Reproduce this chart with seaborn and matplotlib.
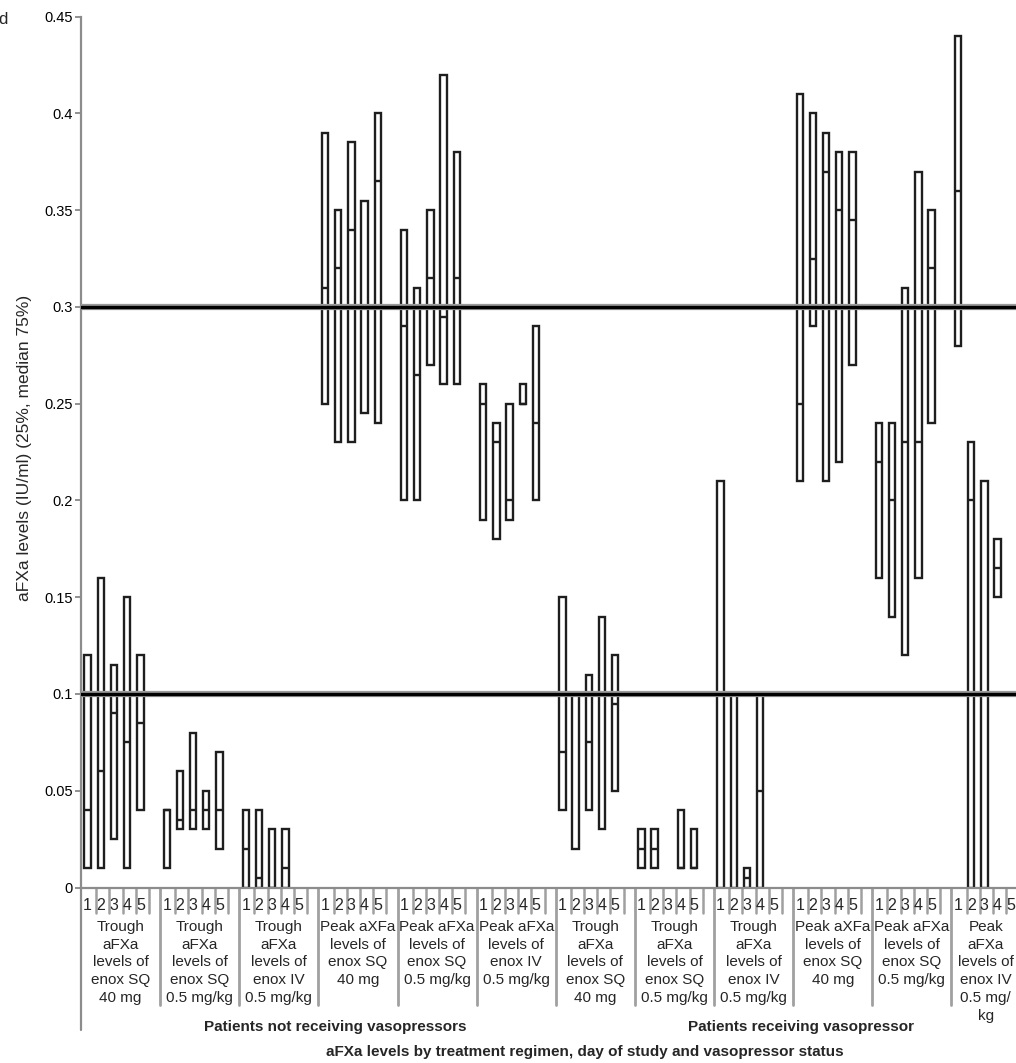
import numpy as np
import matplotlib
matplotlib.use("Agg")
import matplotlib.pyplot as plt
import seaborn as sns
from matplotlib import font_manager

# day of study inside each regimen group
days = [1, 2, 3, 4, 5]

group_labels = [
    "Trough\naFXa\nlevels of\nenox SQ\n40 mg",
    "Trough\naFXa\nlevels of\nenox SQ\n0.5 mg/kg",
    "Trough\naFXa\nlevels of\nenox IV\n0.5 mg/kg",
    "Peak aXFa\nlevels of\nenox SQ\n40 mg",
    "Peak aFXa\nlevels of\nenox SQ\n0.5 mg/kg",
    "Peak aFXa\nlevels of\nenox IV\n0.5 mg/kg",
    "Trough\naFXa\nlevels of\nenox SQ\n40 mg",
    "Trough\naFXa\nlevels of\nenox SQ\n0.5 mg/kg",
    "Trough\naFXa\nlevels of\nenox IV\n0.5 mg/kg",
    "Peak aXFa\nlevels of\nenox SQ\n40 mg",
    "Peak aFXa\nlevels of\nenox SQ\n0.5 mg/kg",
    "Peak\naFXa\nlevels of\nenox IV\n0.5 mg/\nkg",
]
status_labels = ["Patients not receiving vasopressors", "Patients receiving vasopressor"]

nan = np.nan
# 25th percentile, one row per group, one value per day
q1 = [
    [0.01, 0.01, 0.025, 0.01, 0.04],
    [0.01, 0.03, 0.03, 0.03, 0.02],
    [0.0, 0.0, 0.0, 0.0, nan],
    [0.25, 0.23, 0.23, 0.245, 0.24],
    [0.20, 0.20, 0.27, 0.26, 0.26],
    [0.19, 0.18, 0.19, 0.25, 0.20],
    [0.04, 0.02, 0.04, 0.03, 0.05],
    [0.01, 0.01, nan, 0.01, 0.01],
    [0.0, 0.0, 0.0, 0.0, nan],
    [0.21, 0.29, 0.21, 0.22, 0.27],
    [0.16, 0.14, 0.12, 0.16, 0.24],
    [0.28, 0.0, 0.0, 0.15, nan],
]
# median
med = [
    [0.04, 0.06, 0.09, 0.075, 0.085],
    [0.04, 0.035, 0.04, 0.04, 0.04],
    [0.02, 0.005, 0.0, 0.01, nan],
    [0.31, 0.32, 0.34, 0.30, 0.365],
    [0.29, 0.265, 0.315, 0.295, 0.315],
    [0.25, 0.23, 0.20, 0.25, 0.24],
    [0.07, 0.10, 0.075, 0.10, 0.095],
    [0.02, 0.02, nan, 0.01, 0.01],
    [0.10, 0.10, 0.005, 0.05, nan],
    [0.25, 0.325, 0.37, 0.35, 0.345],
    [0.22, 0.20, 0.23, 0.23, 0.32],
    [0.36, 0.20, 0.10, 0.165, nan],
]
# 75th percentile
q3 = [
    [0.12, 0.16, 0.115, 0.15, 0.12],
    [0.04, 0.06, 0.08, 0.05, 0.07],
    [0.04, 0.04, 0.03, 0.03, nan],
    [0.39, 0.35, 0.385, 0.355, 0.40],
    [0.34, 0.31, 0.35, 0.42, 0.38],
    [0.26, 0.24, 0.25, 0.26, 0.29],
    [0.15, 0.10, 0.11, 0.14, 0.12],
    [0.03, 0.03, nan, 0.04, 0.03],
    [0.21, 0.10, 0.01, 0.10, nan],
    [0.41, 0.40, 0.39, 0.38, 0.38],
    [0.24, 0.24, 0.31, 0.37, 0.35],
    [0.44, 0.23, 0.21, 0.18, nan],
]
ref_levels = [0.1, 0.3]
yticks = [0, 0.05, 0.1, 0.15, 0.2, 0.25, 0.3, 0.35, 0.4, 0.45]
ytick_labels = ["0", "0.05", "0.1", "0.15", "0.2", "0.25", "0.3", "0.35", "0.4", "0.45"]

sns.set_style("ticks")
names = {f.name for f in font_manager.fontManager.ttflist}
narrow = "Liberation Sans Narrow" if "Liberation Sans Narrow" in names else "Liberation Sans"
plt.rcParams["font.family"] = ["Liberation Sans", "DejaVu Sans"]

W, H = 1016, 1063
fig = plt.figure(figsize=(W / 100, H / 100), dpi=100)
x0, y0, ytop = 81, 887.5, 16.7
ax = fig.add_axes([x0 / W, (H - y0) / H, (W - x0) / W, (y0 - ytop) / H])

slot = 6  # 5 days + gap per group
stats, pos = [], []
for g in range(len(group_labels)):
    for d in range(len(days)):
        if np.isnan(med[g][d]):
            continue
        stats.append(dict(med=med[g][d], q1=q1[g][d], q3=q3[g][d],
                          whislo=q1[g][d], whishi=q3[g][d], fliers=[]))
        pos.append(g * slot + d + 0.5)

edge = "#1e1e1e"
ax.bxp(stats, positions=pos, widths=0.48, showcaps=False, showfliers=False,
       patch_artist=True,
       boxprops=dict(facecolor="white", edgecolor=edge, linewidth=1.7),
       medianprops=dict(color=edge, linewidth=1.7),
       whiskerprops=dict(linewidth=0))

for lv in ref_levels:
    ax.axhline(lv, color="#9a9a9a", lw=4.5, zorder=5)
    ax.axhline(lv, color="black", lw=2.4, zorder=6)

xmax = 70.9
ax.set_xlim(0, xmax)
ax.set_ylim(0, 0.45)
ax.set_yticks(yticks)
ax.set_yticklabels(ytick_labels, fontsize=10.5)
ax.set_xticks([])
ax.tick_params(axis="y", colors="#888888", length=4, width=1.3, labelcolor="black", pad=2)
sns.despine(ax=ax, top=True, right=True)
for s in ["left", "bottom"]:
    ax.spines[s].set_color("#8c8c8c")
    ax.spines[s].set_linewidth(1.6)
ax.patch.set_alpha(0)

trans = ax.get_xaxis_transform()
ah = y0 - ytop


def fy(px):
    return (y0 - px) / ah


grey = "#a0a0a0"
# left axis extension below the plot
ax.plot([0, 0], [0, fy(1030)], transform=trans, color="#8c8c8c", lw=1.6, clip_on=False)
for g in range(len(group_labels)):
    gs = g * slot
    if g > 0:
        ax.plot([gs, gs], [0, fy(1005)], transform=trans, color=grey, lw=2, clip_on=False)
    for d, day in enumerate(days):
        ax.text(gs + d + 0.5, fy(905), str(day), transform=trans, ha="center", va="center",
                fontsize=11.5, clip_on=False)
        tx = gs + d + 1.15
        ax.plot([tx, tx], [0, fy(913)], transform=trans, color=grey, lw=1.8, clip_on=False)
    lx = gs + 3.0 if g < len(group_labels) - 1 else gs + 2.6
    ax.text(lx, fy(920), group_labels[g], transform=trans, ha="center", va="top",
            fontsize=11, linespacing=1.34, clip_on=False)

ax.text(19.3, fy(1027), status_labels[0], transform=trans, ha="center", va="center",
        fontsize=11, fontweight="bold", family=[narrow, "DejaVu Sans"], clip_on=False)
ax.text(54.6, fy(1027), status_labels[1], transform=trans, ha="center", va="center",
        fontsize=11, fontweight="bold", family=[narrow, "DejaVu Sans"], clip_on=False)

fig.text(585 / W, (H - 1052) / H,
         "aFXa levels by treatment regimen, day of study and vasopressor status",
         ha="center", va="center", fontsize=11, fontweight="bold", family=[narrow, "DejaVu Sans"])
fig.text(25 / W, (H - 448) / H, "aFXa levels (IU/ml) (25%, median 75%)",
         rotation=90, ha="center", va="center", fontsize=12.5)
fig.text(-2 / W, (H - 20) / H, "d", ha="left", va="center", fontsize=12)

fig.savefig("out.png", dpi=100)
